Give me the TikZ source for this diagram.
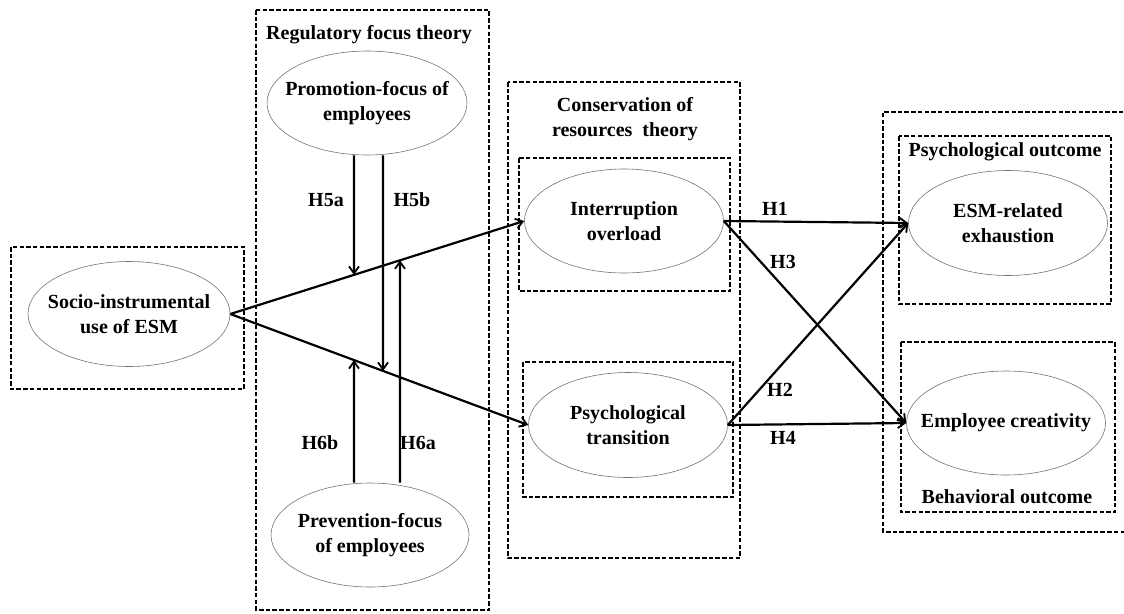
\documentclass[tikz,border=0pt]{standalone}
\usepackage{fontspec}
\setmainfont{Liberation Serif}
\usetikzlibrary{shapes.geometric,arrows.meta}
\tikzset{
  ell/.style={ellipse, draw=black!55, line width=0.6pt, inner sep=0pt},
  etxt/.style={align=center, inner sep=0pt, font=\txt},
  dbox/.style={draw=black, line width=2.2pt, dash pattern=on 4.5pt off 2.2pt},
  conn/.style={draw=black, line width=2.2pt, -{Straight Barb[length=7pt,width=10pt,line width=1.8pt]}},
  lbl/.style={font=\txt, inner sep=0pt},
}
\newcommand{\txt}{\fontsize{20}{25}\selectfont\bfseries}
\begin{document}
\begin{tikzpicture}[x=1pt,y=-1pt]
\useasboundingbox (0,0) rectangle (1124,613);
% boxes
\draw[dbox] (11,247) rectangle (244,389);
\draw[dbox] (256,10) rectangle (489,610);
\draw[dbox] (508,82) rectangle (740,558);
\draw[dbox] (519,158) rectangle (730,291);
\draw[dbox] (523,362) rectangle (733,497);
\draw[dbox] (1130,112) -- (883,112) -- (883,532) -- (1130,532);
\draw[dbox] (899,136) rectangle (1111,304);
\draw[dbox] (901,342) rectangle (1115,512);
% titles
\node[lbl] (t1) at (369,35) {Regulatory focus theory};
\node[lbl, align=center] (t2) at (625,119) {Conservation of\\resources\ \ theory};
\node[lbl] (t3) at (1005,152) {Psychological outcome};
\node[lbl] (t4) at (1007,497) {Behavioral outcome};
% ellipses
\node[ell, minimum width=202pt, minimum height=105pt] (socio) at (129,314) {};
\node[etxt] (socio-t) at (socio.center) {Socio-instrumental\\use of ESM};
\node[ell, minimum width=200pt, minimum height=104pt] (promo) at (367,103) {};
\node[etxt] (promo-t) at (promo.center) {Promotion-focus of\\employees};
\node[ell, minimum width=198pt, minimum height=104pt] (prev) at (370,535) {};
\node[etxt] (prev-t) at (prev.center) {Prevention-focus\\of employees};
\node[ell, minimum width=199pt, minimum height=104pt] (interr) at (624,221) {};
\node[etxt] (interr-t) at (interr.center) {Interruption\\overload};
\node[ell, minimum width=199pt, minimum height=105pt] (trans) at (628,425) {};
\node[etxt] (trans-t) at (trans.center) {Psychological\\transition};
\node[ell, minimum width=199pt, minimum height=105pt] (exh) at (1008,223) {};
\node[etxt] (exh-t) at (exh.center) {ESM-related\\exhaustion};
\node[ell, minimum width=199pt, minimum height=104pt] (creat) at (1006,423) {};
\node[etxt] (creat-t) at (creat.center) {Employee creativity};
% main connectors
\draw[conn] (socio.east) -- (interr.west);
\draw[conn] (socio.east) -- (trans.west);
\draw[conn] (interr.east) -- (exh.west);
\draw[conn] (interr.east) -- (creat.west);
\draw[conn] (trans.east) -- (exh.west);
\draw[conn] (trans.east) -- (creat.west);
% moderators
\coordinate (xa) at (354,0);
\coordinate (xb) at (383,0);
\coordinate (xc) at (400,0);
\coordinate (ua) at (intersection of socio.east--interr.west and 354,0--354,600);
\coordinate (uc) at (intersection of socio.east--interr.west and 400,0--400,600);
\coordinate (la) at (intersection of socio.east--trans.west and 354,0--354,600);
\coordinate (lb) at (intersection of socio.east--trans.west and 383,0--383,600);
\draw[conn] (promo.south -| xa) -- (ua);
\draw[conn] (promo.south -| xb) -- (lb);
\draw[conn] (prev.north -| xa) -- (la);
\draw[conn] (prev.north -| xc) -- (uc);
% labels
\node[lbl] (h5a) at (326,200) {H5a};
\node[lbl] (h5b) at (412,200) {H5b};
\node[lbl] (h6b) at (320,443) {H6b};
\node[lbl] (h6a) at (418,443) {H6a};
\node[lbl] (h1) at (775,209) {H1};
\node[lbl] (h3) at (783,262) {H3};
\node[lbl] (h2) at (780,390) {H2};
\node[lbl] (h4) at (783,438) {H4};
\end{tikzpicture}
\end{document}
